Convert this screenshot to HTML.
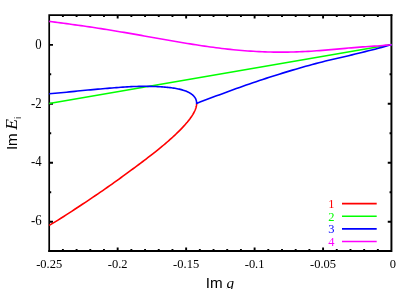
<!DOCTYPE html>
<html><head><meta charset="utf-8"><title>Im E vs Im g</title>
<style>
html,body{margin:0;padding:0;background:#fff;}
body{width:413px;height:289px;overflow:hidden;}
svg{display:block;will-change:transform;}
text{font-family:"Liberation Serif",serif;font-size:12.5px;fill:#000;}
.sans{font-family:"Liberation Sans",sans-serif;}
.it{font-family:"Liberation Serif",serif;font-style:italic;}
</style></head><body>
<svg width="413" height="289" viewBox="0 0 413 289">
<rect x="0" y="0" width="413" height="289" fill="#fff"/>
<text transform="translate(334.5,208.10) scale(1,1.08)" text-anchor="end" style="fill:#ff0000">1</text><path d="M342,203.60H376.7" stroke="#ff0000" stroke-width="1.6" fill="none"/><text transform="translate(334.5,220.73) scale(1,1.08)" text-anchor="end" style="fill:#00ff00">2</text><path d="M342,216.23H376.7" stroke="#00ff00" stroke-width="1.6" fill="none"/><text transform="translate(334.5,233.36) scale(1,1.08)" text-anchor="end" style="fill:#0000ff">3</text><path d="M342,228.86H376.7" stroke="#0000ff" stroke-width="1.6" fill="none"/><text transform="translate(334.5,245.99) scale(1,1.08)" text-anchor="end" style="fill:#ff00ff">4</text><path d="M342,241.49H376.7" stroke="#ff00ff" stroke-width="1.6" fill="none"/>
<path d="M62.89,250.90v-2.0M62.89,15.10v2.0M76.59,250.90v-2.0M76.59,15.10v2.0M90.28,250.90v-2.0M90.28,15.10v2.0M103.98,250.90v-2.0M103.98,15.10v2.0M117.67,250.90v-3.4M117.67,15.10v3.4M131.36,250.90v-2.0M131.36,15.10v2.0M145.06,250.90v-2.0M145.06,15.10v2.0M158.75,250.90v-2.0M158.75,15.10v2.0M172.45,250.90v-2.0M172.45,15.10v2.0M186.14,250.90v-3.4M186.14,15.10v3.4M199.83,250.90v-2.0M199.83,15.10v2.0M213.53,250.90v-2.0M213.53,15.10v2.0M227.22,250.90v-2.0M227.22,15.10v2.0M240.92,250.90v-2.0M240.92,15.10v2.0M254.61,250.90v-3.4M254.61,15.10v3.4M268.30,250.90v-2.0M268.30,15.10v2.0M282.00,250.90v-2.0M282.00,15.10v2.0M295.69,250.90v-2.0M295.69,15.10v2.0M309.39,250.90v-2.0M309.39,15.10v2.0M323.08,250.90v-3.4M323.08,15.10v3.4M336.77,250.90v-2.0M336.77,15.10v2.0M350.47,250.90v-2.0M350.47,15.10v2.0M364.16,250.90v-2.0M364.16,15.10v2.0M377.86,250.90v-2.0M377.86,15.10v2.0M49.20,44.83h3.8M391.55,44.83h-3.8M49.20,74.30h2.0M391.55,74.30h-2.0M49.20,103.78h3.8M391.55,103.78h-3.8M49.20,133.25h2.0M391.55,133.25h-2.0M49.20,162.72h3.8M391.55,162.72h-3.8M49.20,192.20h2.0M391.55,192.20h-2.0M49.20,221.68h3.8M391.55,221.68h-3.8" stroke="#000" stroke-width="1.9" fill="none"/>
<path d="M49.2,252.02V15.1H392.40" fill="none" stroke="#000" stroke-width="1.7" stroke-linejoin="miter"/>
<path d="M391.43,14.25V251.05H48.35" fill="none" stroke="#000" stroke-width="1.95" stroke-linejoin="miter"/>
<g fill="none" stroke-width="1.6" stroke-linejoin="round" stroke-linecap="butt">
<path d="M49.20,225.43 L52.16,223.64 L55.10,221.85 L58.00,220.06 L60.87,218.27 L63.72,216.47 L66.53,214.68 L69.31,212.88 L72.07,211.08 L74.79,209.29 L77.48,207.52 L80.15,205.76 L82.78,204.04 L85.38,202.31 L87.95,200.59 L90.50,198.88 L93.01,197.19 L95.49,195.50 L97.94,193.83 L100.37,192.18 L102.76,190.54 L105.12,188.91 L107.45,187.28 L109.75,185.67 L112.03,184.06 L114.27,182.46 L116.48,180.87 L118.66,179.30 L120.81,177.73 L122.93,176.18 L125.02,174.65 L127.08,173.15 L129.12,171.66 L131.12,170.20 L133.09,168.75 L135.03,167.32 L136.94,165.91 L138.82,164.51 L140.67,163.12 L142.49,161.74 L144.28,160.38 L146.04,159.04 L147.77,157.72 L149.47,156.42 L151.14,155.13 L152.78,153.86 L154.39,152.59 L155.97,151.35 L157.52,150.11 L159.04,148.88 L160.53,147.67 L161.99,146.46 L163.42,145.26 L164.82,144.08 L166.19,142.90 L167.52,141.74 L168.83,140.59 L170.11,139.45 L171.36,138.33 L172.58,137.22 L173.77,136.12 L174.93,135.04 L176.05,133.97 L177.15,132.91 L178.22,131.87 L179.26,130.84 L180.27,129.82 L181.24,128.82 L182.19,127.83 L183.11,126.86 L184.00,125.90 L184.86,124.95 L185.68,124.02 L186.48,123.09 L187.25,122.19 L187.98,121.29 L188.69,120.41 L189.37,119.54 L190.02,118.68 L190.63,117.83 L191.22,117.00 L191.78,116.18 L192.30,115.36 L192.80,114.57 L193.27,113.78 L193.70,113.00 L194.11,112.24 L194.48,111.49 L194.83,110.75 L195.15,110.02 L195.43,109.30 L195.69,108.60 L195.91,107.90 L196.11,107.22 L196.27,106.55 L196.41,105.89 L196.51,105.25 L196.59,104.61 L196.63,103.99 L196.65,103.38" stroke="#ff0000"/>
<path d="M49.20,103.53 L391.55,44.58" stroke="#00ff00"/>
<path d="M49.20,93.73 L52.16,93.49 L55.10,93.25 L58.00,93.00 L60.87,92.74 L63.72,92.47 L66.53,92.20 L69.31,91.92 L72.07,91.63 L74.79,91.34 L77.48,91.06 L80.15,90.80 L82.78,90.56 L85.38,90.32 L87.95,90.07 L90.50,89.83 L93.01,89.59 L95.49,89.37 L97.94,89.15 L100.37,88.94 L102.76,88.74 L105.12,88.54 L107.45,88.35 L109.75,88.15 L112.03,87.97 L114.27,87.78 L116.48,87.60 L118.66,87.43 L120.81,87.26 L122.93,87.10 L125.02,86.96 L127.08,86.84 L129.12,86.74 L131.12,86.65 L133.09,86.57 L135.03,86.50 L136.94,86.45 L138.82,86.40 L140.67,86.37 L142.49,86.34 L144.28,86.32 L146.04,86.32 L147.77,86.33 L149.47,86.36 L151.14,86.40 L152.78,86.44 L154.39,86.50 L155.97,86.57 L157.52,86.64 L159.04,86.72 L160.53,86.81 L161.99,86.90 L163.42,87.00 L164.82,87.11 L166.19,87.22 L167.52,87.34 L168.83,87.48 L170.11,87.62 L171.36,87.77 L172.58,87.94 L173.77,88.11 L174.93,88.29 L176.05,88.49 L177.15,88.69 L178.22,88.91 L179.26,89.14 L180.27,89.38 L181.24,89.63 L182.19,89.89 L183.11,90.16 L184.00,90.44 L184.86,90.74 L185.68,91.04 L186.48,91.36 L187.25,91.69 L187.98,92.03 L188.69,92.38 L189.37,92.74 L190.02,93.11 L190.63,93.49 L191.22,93.88 L191.78,94.29 L192.30,94.70 L192.80,95.12 L193.27,95.56 L193.70,96.00 L194.11,96.46 L194.48,96.92 L194.83,97.40 L195.15,97.89 L195.43,98.38 L195.69,98.89 L195.91,99.41 L196.11,99.95 L196.27,100.49 L196.41,101.04 L196.51,101.61 L196.59,102.19 L196.63,102.78 L196.65,103.38 L196.65,103.38 L199.95,102.11 L203.26,100.85 L206.56,99.60 L209.86,98.35 L213.17,97.11 L216.47,95.87 L219.77,94.64 L223.08,93.42 L226.38,92.20 L229.68,90.99 L232.99,89.78 L236.29,88.58 L239.59,87.40 L242.90,86.23 L246.20,85.07 L249.50,83.92 L252.81,82.79 L256.11,81.66 L259.41,80.55 L262.72,79.46 L266.02,78.37 L269.32,77.30 L272.63,76.24 L275.93,75.19 L279.23,74.16 L282.54,73.13 L285.84,72.12 L289.14,71.12 L292.45,70.14 L295.75,69.16 L299.06,68.20 L302.36,67.25 L305.66,66.32 L308.97,65.41 L312.27,64.52 L315.57,63.64 L318.88,62.78 L322.18,61.93 L325.48,61.09 L328.79,60.26 L332.09,59.45 L335.39,58.67 L338.70,57.92 L342.00,57.18 L345.30,56.43 L348.61,55.67 L351.91,54.88 L355.21,54.07 L358.52,53.26 L361.82,52.45 L365.12,51.64 L368.43,50.84 L371.73,50.03 L375.03,49.19 L378.34,48.29 L381.64,47.36 L384.94,46.44 L388.25,45.53 L391.55,44.61" stroke="#0000ff"/>
<path d="M49.20,21.36 L52.08,21.74 L54.95,22.12 L57.83,22.50 L60.71,22.88 L63.58,23.27 L66.46,23.66 L69.34,24.05 L72.22,24.44 L75.09,24.84 L77.97,25.24 L80.85,25.65 L83.72,26.06 L86.60,26.48 L89.48,26.90 L92.35,27.33 L95.23,27.77 L98.11,28.21 L100.98,28.65 L103.86,29.10 L106.74,29.56 L109.61,30.02 L112.49,30.49 L115.37,30.96 L118.25,31.44 L121.12,31.92 L124.00,32.41 L126.88,32.90 L129.75,33.40 L132.63,33.90 L135.51,34.40 L138.38,34.90 L141.26,35.41 L144.14,35.92 L147.01,36.43 L149.89,36.94 L152.77,37.45 L155.64,37.96 L158.52,38.47 L161.40,38.98 L164.28,39.49 L167.15,40.00 L170.03,40.50 L172.91,41.00 L175.78,41.50 L178.66,41.99 L181.54,42.48 L184.41,42.96 L187.29,43.43 L190.17,43.90 L193.04,44.36 L195.92,44.81 L198.80,45.25 L201.68,45.69 L204.55,46.11 L207.43,46.53 L210.31,46.93 L213.18,47.32 L216.06,47.70 L218.94,48.07 L221.81,48.42 L224.69,48.76 L227.57,49.09 L230.44,49.40 L233.32,49.70 L236.20,49.98 L239.07,50.24 L241.95,50.49 L244.83,50.72 L247.71,50.94 L250.58,51.14 L253.46,51.32 L256.34,51.49 L259.21,51.63 L262.09,51.76 L264.97,51.87 L267.84,51.96 L270.72,52.04 L273.60,52.09 L276.47,52.13 L279.35,52.15 L282.23,52.15 L285.11,52.13 L287.98,52.09 L290.86,52.04 L293.74,51.97 L296.61,51.88 L299.49,51.77 L302.37,51.65 L305.24,51.51 L308.12,51.36 L311.00,51.19 L313.87,51.01 L316.75,50.82 L319.63,50.61 L322.50,50.39 L325.38,50.15 L328.26,49.91 L331.14,49.66 L334.01,49.40 L336.89,49.14 L339.77,48.86 L342.64,48.59 L345.52,48.33 L348.40,48.07 L351.27,47.83 L354.15,47.59 L357.03,47.35 L359.90,47.12 L362.78,46.90 L365.66,46.68 L368.53,46.49 L371.41,46.31 L374.29,46.14 L377.17,45.95 L380.04,45.71 L382.92,45.43 L385.80,45.16 L388.67,44.93 L391.55,44.77" stroke="#ff00ff"/>
</g>
<text transform="translate(49.20,268.4) scale(1,1.08)" text-anchor="middle">-0.25</text><text transform="translate(117.67,268.4) scale(1,1.08)" text-anchor="middle">-0.2</text><text transform="translate(186.14,268.4) scale(1,1.08)" text-anchor="middle">-0.15</text><text transform="translate(254.61,268.4) scale(1,1.08)" text-anchor="middle">-0.1</text><text transform="translate(323.08,268.4) scale(1,1.08)" text-anchor="middle">-0.05</text><text transform="translate(392.95,268.4) scale(1,1.08)" text-anchor="middle">0</text>
<text transform="translate(41.6,48.58) scale(1,1.08)" text-anchor="end" style="font-size:12.8px">0</text><text transform="translate(41.6,107.53) scale(1,1.08)" text-anchor="end" style="font-size:12.8px">-2</text><text transform="translate(41.6,166.48) scale(1,1.08)" text-anchor="end" style="font-size:12.8px">-4</text><text transform="translate(41.6,225.43) scale(1,1.08)" text-anchor="end" style="font-size:12.8px">-6</text>
<text x="205.7" y="288.4" class="sans" style="font-size:15.2px">Im</text>
<text x="226.5" y="288.4" class="it" style="font-size:15.2px">g</text>
<g transform="translate(17,150.1) rotate(-90)">
<text x="0" y="0" class="sans" style="font-size:15.2px">Im</text>
<text x="20.3" y="0" class="it" style="font-size:17.5px">E</text>
<text x="31.1" y="3.8" class="sans" style="font-size:9.5px">i</text>
</g>
</svg>
</body></html>
